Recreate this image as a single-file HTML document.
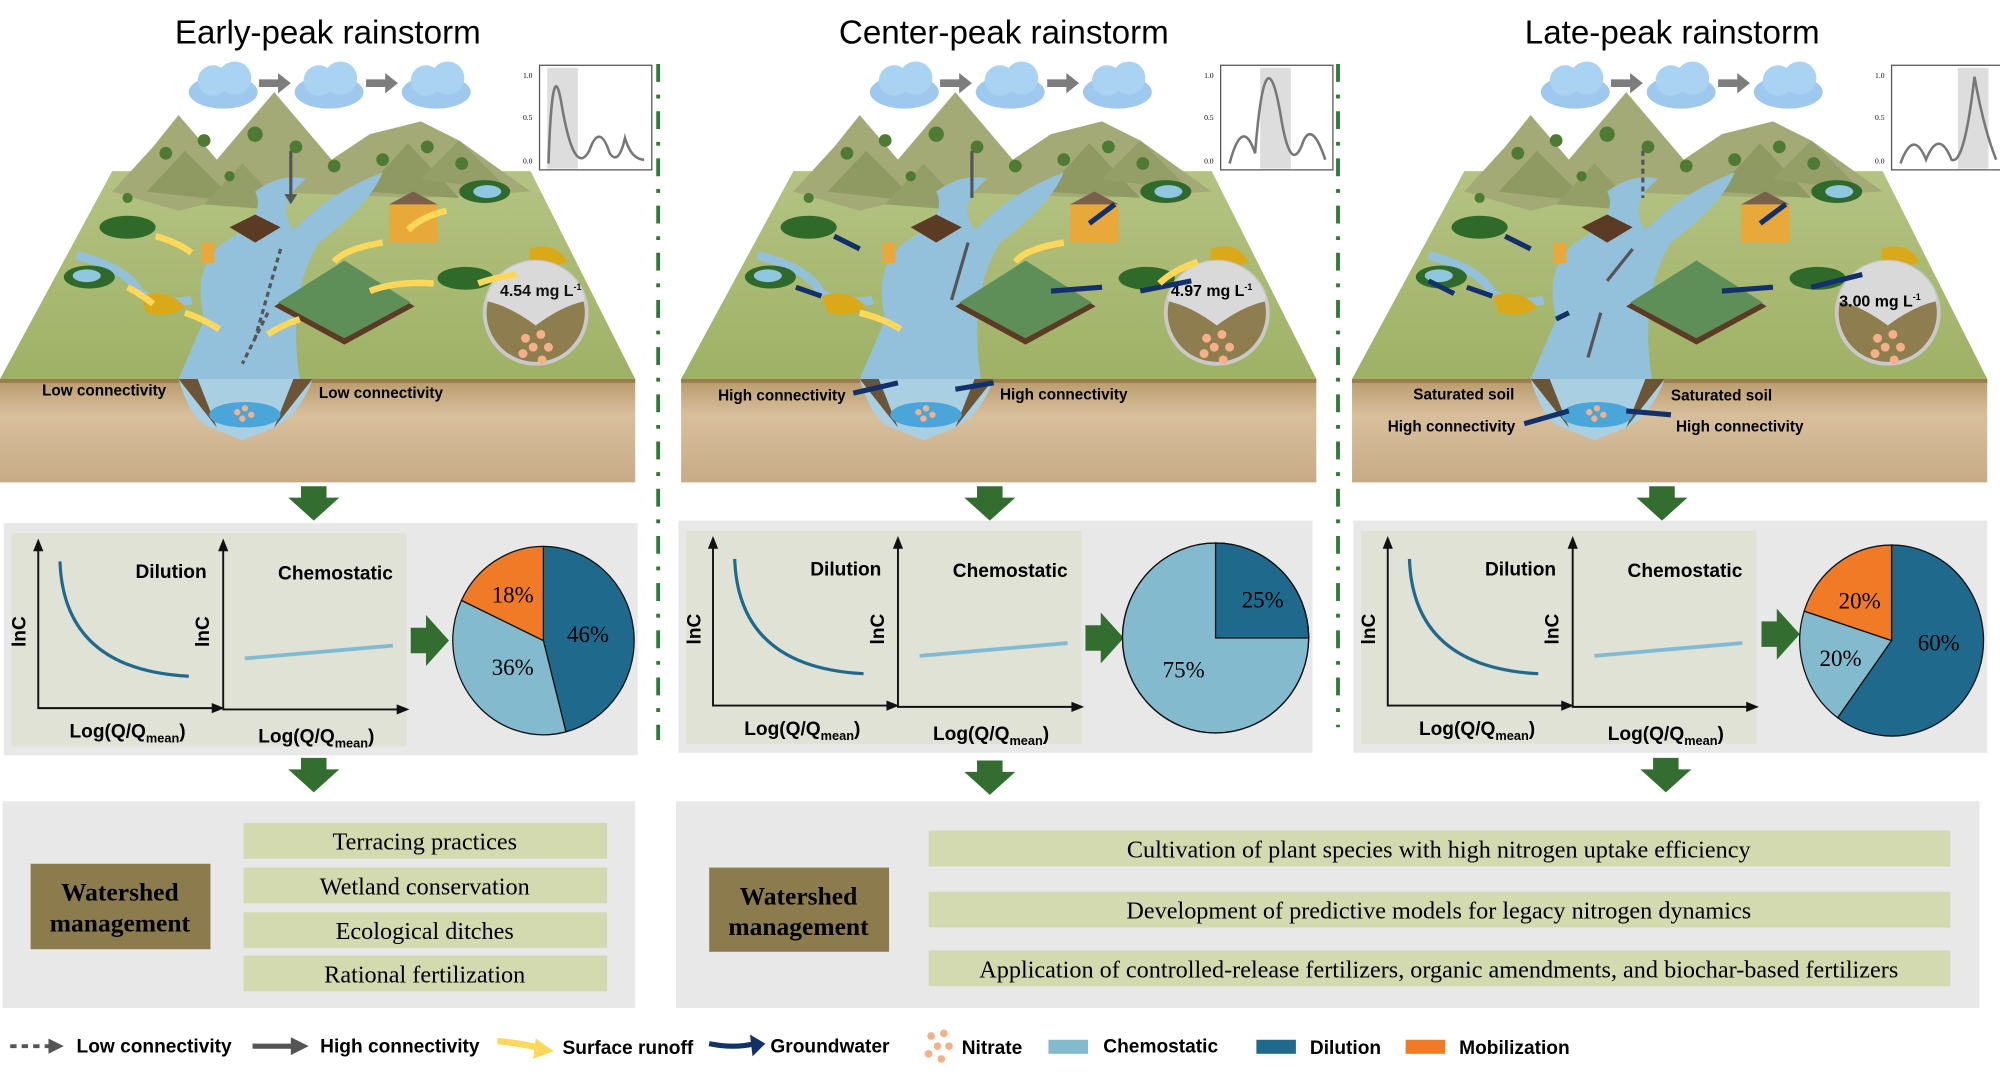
<!DOCTYPE html>
<html><head><meta charset="utf-8"><style>
html,body{margin:0;padding:0;background:#fff;}
svg{display:block;}
.t{font-family:"Liberation Sans",sans-serif;}
.s{font-family:"Liberation Serif",serif;}
</style></head><body>
<svg width="2000" height="1077" viewBox="0 0 1568 844" xmlns="http://www.w3.org/2000/svg">
<defs>
<linearGradient id="side" x1="0" y1="0" x2="0" y2="1"><stop offset="0" stop-color="#b89a6a"/><stop offset="0.35" stop-color="#d8bf9c"/><stop offset="1" stop-color="#c7ab86"/></linearGradient>
<linearGradient id="top" x1="0" y1="0" x2="0" y2="1"><stop offset="0" stop-color="#b4c383"/><stop offset="1" stop-color="#9fb165"/></linearGradient>
<g id="cloud"><ellipse cx="0" cy="0" rx="27" ry="13" fill="#9fc8ee"/><circle cx="-8" cy="-9" r="12" fill="#a9d2f3"/><circle cx="9" cy="-11" r="13" fill="#a9d2f3"/></g>
<g id="land">
 <polygon points="0,297 498,297 416,134 88,134" fill="url(#top)"/>
 <polygon points="88,150 120,115 140,90 170,125 215,72 260,125 290,105 330,95 360,110 416,150 330,155 200,150 140,165" fill="#a3aa76"/>
 <polygon points="115,150 145,118 185,158" fill="#8f9a63"/>
 <polygon points="160,160 190,128 225,165" fill="#949e67"/>
 <polygon points="285,150 320,112 360,155" fill="#8f9a63"/>
 <polygon points="330,140 360,110 400,150" fill="#949e67"/>
 <g fill="#4f7a35"><circle cx="130" cy="120" r="5"/><circle cx="160" cy="110" r="5"/><circle cx="200" cy="105" r="6"/><circle cx="232" cy="115" r="5"/><circle cx="262" cy="130" r="5"/><circle cx="300" cy="125" r="5"/><circle cx="335" cy="115" r="5"/><circle cx="362" cy="128" r="5"/><circle cx="180" cy="138" r="4"/><circle cx="100" cy="155" r="4"/></g>
 <path d="M140,297 L160,250 Q150,210 175,190 Q210,170 200,150 Q220,135 240,140 Q215,160 230,180 Q260,150 300,135 Q290,160 250,190 Q225,230 235,297 Z" fill="#93c0da"/>
 <path d="M60,200 Q100,210 110,230 Q130,240 150,235" stroke="#93c0da" stroke-width="7" fill="none"/>
 <ellipse cx="100" cy="178" rx="22" ry="9" fill="#2f6a2a"/>
 <ellipse cx="70" cy="217" rx="20" ry="9" fill="#2f6a2a"/><ellipse cx="68" cy="216" rx="11" ry="5" fill="#8fc6e0"/>
 <ellipse cx="380" cy="150" rx="20" ry="9" fill="#2f6a2a"/><ellipse cx="382" cy="150" rx="11" ry="5" fill="#8fc6e0"/>
 <ellipse cx="365" cy="218" rx="22" ry="9" fill="#2f6a2a"/>
 <path d="M110,232 Q130,225 145,240 Q135,250 115,245 Z" fill="#d9a91a"/>
 <path d="M415,195 Q435,188 445,205 Q430,212 415,205Z" fill="#d9a91a"/>
 <polygon points="215,240 270,205 325,240 270,270" fill="#5b3b24"/><polygon points="218,237 270,204 322,237 270,265" fill="#5f8f58"/>
 <polygon points="180,178 200,168 220,178 200,190" fill="#5b3b24"/>
 <rect x="305" y="160" width="38" height="30" fill="#e8a83a"/><polygon points="305,160 324,150 343,160" fill="#7a5f4a"/>
 <rect x="158" y="190" width="10" height="16" fill="#e8a83a"/>
 <circle cx="420" cy="245" r="40" fill="#8e7d4e" stroke="#c9c9c9" stroke-width="3"/>
 <path d="M382,232 A40,40 0 0 1 458,232 L458,236 Q440,240 420,255 Q400,240 382,236Z" fill="#d9d9d9"/>
 <g fill="#f4b08a"><circle cx="412" cy="265" r="3.5"/><circle cx="424" cy="262" r="3.5"/><circle cx="418" cy="272" r="3.5"/><circle cx="430" cy="272" r="3.5"/><circle cx="410" cy="277" r="3.5"/><circle cx="425" cy="282" r="3.5"/></g>
 <rect x="0" y="297" width="498" height="81" fill="url(#side)"/>
 <path d="M0,297 L498,297 L498,300 L0,300Z" fill="#9a7d4f"/>
 <path d="M140,297 Q150,330 165,335 L190,345 L215,335 Q235,325 245,297 Z" fill="#a9cfe3"/>
 <path d="M140,297 L155,297 L170,335 Z M245,297 L230,297 L215,335Z" fill="#6b5536"/>
 <ellipse cx="192" cy="325" rx="28" ry="10" fill="#4aa6d8"/>
 <g fill="#f4b08a"><circle cx="186" cy="323" r="2.5"/><circle cx="192" cy="320" r="2.5"/><circle cx="197" cy="325" r="2.5"/><circle cx="190" cy="328" r="2.5"/></g>
 <use href="#cloud" x="175" y="72"/><use href="#cloud" x="258" y="72"/><use href="#cloud" x="342" y="72"/>
 <path d="M203,62 L218,62 L218,57 L228,65 L218,73 L218,68 L203,68Z" fill="#7d7d7d"/>
 <path d="M287,62 L302,62 L302,57 L312,65 L302,73 L302,68 L287,68Z" fill="#7d7d7d"/>
 <rect x="423" y="51" width="88" height="82" fill="#fff" stroke="#555" stroke-width="1"/>
 <text x="410" y="61" font-size="6" class="s">1.0</text><text x="410" y="94" font-size="6" class="s">0.5</text><text x="410" y="128" font-size="6" class="s">0.0</text>
</g>
<g id="ar"><polygon points="-10,0 10,0 10,9 20,9 0,27 -20,9 -10,9" fill="#336e30"/></g>
<g id="arr"><polygon points="0,-10 0,10 12,10 12,20 30,0 12,-20 12,-10" fill="#336e30"/></g>
</defs>

<text x="257" y="34" font-size="26" text-anchor="middle" class="t">Early-peak rainstorm</text>
<text x="787" y="34" font-size="26" text-anchor="middle" class="t">Center-peak rainstorm</text>
<text x="1311" y="34" font-size="26" text-anchor="middle" class="t">Late-peak rainstorm</text>

<g><use href="#land"/>
 <rect x="429" y="53" width="24" height="79" fill="#ddd"/>
 <path d="M430,128 Q433,40 440,80 Q450,140 462,118 Q470,95 478,120 Q485,130 490,108 Q495,125 505,125" stroke="#777" stroke-width="2" fill="none"/>
 <text x="392" y="232" font-size="12.5" font-weight="bold" class="t" fill="#111">4.54 mg L<tspan font-size="7" dy="-5">-1</tspan></text>
 <text x="33" y="310" font-size="12" font-weight="bold" class="t">Low connectivity</text>
 <text x="250" y="312" font-size="12" font-weight="bold" class="t">Low connectivity</text>
 <path d="M228,118 L228,155" stroke="#555" stroke-width="2.5"/><polygon points="223,152 233,152 228,160" fill="#555"/>
 <path d="M220,195 L200,265 M210,245 L190,285" stroke="#555" stroke-width="2.5" stroke-dasharray="4,3"/>
 <g stroke="#ffd85a" stroke-width="5" fill="none"><path d="M350,165 Q330,170 320,180"/><path d="M122,185 Q140,190 150,198"/><path d="M300,190 Q270,195 262,205"/><path d="M405,215 Q385,218 375,222"/><path d="M340,222 Q310,220 290,228"/><path d="M100,225 Q110,230 120,238"/><path d="M145,245 Q160,250 172,258"/><path d="M235,250 Q220,255 210,262"/></g>
</g>
<g transform="translate(534,0)"><use href="#land"/>
 <rect x="454" y="53" width="24" height="79" fill="#ddd"/>
 <path d="M430,128 Q440,90 450,120 Q458,20 470,90 Q478,140 488,110 Q495,95 505,125" stroke="#777" stroke-width="2" fill="none"/>
 <text x="384" y="232" font-size="12.5" font-weight="bold" class="t">4.97 mg L<tspan font-size="7" dy="-5">-1</tspan></text>
 <text x="29" y="314" font-size="12" font-weight="bold" class="t">High connectivity</text>
 <text x="250" y="313" font-size="12" font-weight="bold" class="t">High connectivity</text>
 <path d="M228,118 L228,155" stroke="#555" stroke-width="2.5"/>
 <path d="M225,190 L212,235" stroke="#555" stroke-width="2.5"/>
 <g stroke="#12306a" stroke-width="4" fill="none"><path d="M135,308 L170,300"/><path d="M245,300 L215,305"/><path d="M340,160 L320,175"/><path d="M120,185 L140,195"/><path d="M90,225 L110,232"/><path d="M400,220 L360,228"/><path d="M330,225 L290,228"/></g>
 <g stroke="#ffd85a" stroke-width="5" fill="none"><path d="M300,190 Q270,195 262,205"/><path d="M140,245 Q160,250 172,258"/><path d="M405,205 Q385,212 375,222"/></g>
</g>
<g transform="translate(1060,0)"><use href="#land"/>
 <rect x="475" y="53" width="24" height="79" fill="#ddd"/>
 <path d="M430,128 Q440,100 450,125 Q460,100 470,125 Q480,130 488,60 Q495,100 505,125" stroke="#777" stroke-width="2" fill="none"/>
 <text x="382" y="240" font-size="12.5" font-weight="bold" class="t">3.00 mg L<tspan font-size="7" dy="-5">-1</tspan></text>
 <text x="48" y="313" font-size="12" font-weight="bold" class="t">Saturated soil</text>
 <text x="250" y="314" font-size="12" font-weight="bold" class="t">Saturated soil</text>
 <text x="28" y="338" font-size="12" font-weight="bold" class="t">High connectivity</text>
 <text x="254" y="338" font-size="12" font-weight="bold" class="t">High connectivity</text>
 <path d="M228,118 L228,155" stroke="#555" stroke-width="2.5" stroke-dasharray="4,3"/>
 <path d="M220,195 L200,220 M195,245 L185,280" stroke="#555" stroke-width="2.5"/>
 <g stroke="#12306a" stroke-width="4" fill="none"><path d="M135,332 L170,322"/><path d="M250,325 L215,322"/><path d="M340,160 L320,175"/><path d="M120,185 L140,195"/><path d="M90,225 L110,232"/><path d="M60,220 L80,230"/><path d="M400,215 L360,225"/><path d="M330,225 L290,228"/><path d="M170,245 L160,250"/></g>
</g>

<g stroke="#2e7a34" stroke-width="3"><line x1="516" y1="50" x2="516" y2="580" stroke-dasharray="14,10,3,10"/><line x1="1049" y1="50" x2="1049" y2="570" stroke-dasharray="14,10,3,10"/></g>

<use href="#ar" x="246" y="381"/><use href="#ar" x="776" y="381"/><use href="#ar" x="1303" y="381"/>
<use href="#ar" x="246" y="594"/><use href="#ar" x="776" y="596"/><use href="#ar" x="1306" y="594"/>

<g id="chp">
<rect x="3" y="410" width="497" height="182" fill="#e8e8e8"/>
<rect x="9" y="418" width="310" height="167" fill="#e0e2d6"/>
<g stroke="#111" stroke-width="1.5" fill="none"><path d="M30,428 L30,555 L170,555"/><path d="M175,428 L175,556 L315,556"/></g>
<polygon points="26,432 30,422 34,432" fill="#111"/><polygon points="171,432 175,422 179,432" fill="#111"/>
<polygon points="166,551 176,555 166,559" fill="#111"/><polygon points="311,552 321,556 311,560" fill="#111"/>
<path d="M47,440 Q50,525 148,530" stroke="#1f6a8c" stroke-width="2.5" fill="none"/>
<path d="M192,516 L308,506" stroke="#7fbcd4" stroke-width="3"/>
<text x="162" y="453" font-size="15" font-weight="bold" text-anchor="end" class="t">Dilution</text>
<text x="308" y="454" font-size="15" font-weight="bold" text-anchor="end" class="t">Chemostatic</text>
<text transform="translate(20,495) rotate(-90)" font-size="15" font-weight="bold" text-anchor="middle" class="t">lnC</text>
<text transform="translate(164,495) rotate(-90)" font-size="15" font-weight="bold" text-anchor="middle" class="t">lnC</text>
<text x="100" y="578" font-size="15" font-weight="bold" text-anchor="middle" class="t">Log(Q/Q<tspan font-size="10" dy="4">mean</tspan><tspan dy="-4">)</tspan></text>
<text x="248" y="582" font-size="15" font-weight="bold" text-anchor="middle" class="t">Log(Q/Q<tspan font-size="10" dy="4">mean</tspan><tspan dy="-4">)</tspan></text>
</g>
<use href="#chp" x="529" y="-2"/>
<use href="#chp" x="1058" y="-2"/>
<use href="#arr" x="322" y="502"/><use href="#arr" x="851" y="500"/><use href="#arr" x="1381" y="497"/>

<g transform="translate(426,502) scale(1,1.04)" stroke="#111" stroke-width="1">
<path d="M0,0 L0,-71 A71,71 0 0 1 17.7,68.8Z" fill="#1f6a8c"/>
<path d="M0,0 L17.7,68.8 A71,71 0 0 1 -64.2,-30.3Z" fill="#83bacd"/>
<path d="M0,0 L-64.2,-30.3 A71,71 0 0 1 0,-71Z" fill="#f07a25"/>
</g>
<text x="461" y="503" font-size="18" text-anchor="middle" class="s">46%</text>
<text x="402" y="529" font-size="18" text-anchor="middle" class="s">36%</text>
<text x="402" y="472" font-size="18" text-anchor="middle" class="s">18%</text>
<g transform="translate(953,500) scale(1,1.02)" stroke="#111" stroke-width="1">
<circle r="73" fill="#83bacd"/>
<path d="M0,0 L0,-73 A73,73 0 0 1 73,0Z" fill="#1f6a8c"/>
<circle r="73" fill="none"/>
</g>
<text x="990" y="476" font-size="18" text-anchor="middle" class="s">25%</text>
<text x="928" y="531" font-size="18" text-anchor="middle" class="s">75%</text>
<g transform="translate(1483,502) scale(1,1.04)" stroke="#111" stroke-width="1">
<path d="M0,0 L0,-72 A72,72 0 1 1 -42.3,58.2Z" fill="#1f6a8c"/>
<path d="M0,0 L-42.3,58.2 A72,72 0 0 1 -68.5,-22.2Z" fill="#83bacd"/>
<path d="M0,0 L-68.5,-22.2 A72,72 0 0 1 0,-72Z" fill="#f07a25"/>
</g>
<text x="1520" y="510" font-size="18" text-anchor="middle" class="s">60%</text>
<text x="1443" y="522" font-size="18" text-anchor="middle" class="s">20%</text>
<text x="1458" y="477" font-size="18" text-anchor="middle" class="s">20%</text>

<rect x="2" y="628" width="496" height="162" fill="#e8e8e8"/>
<rect x="24" y="677" width="141" height="67" fill="#8c7c4d"/>
<text x="94" y="706" font-size="20" font-weight="bold" text-anchor="middle" class="s">Watershed</text>
<text x="94" y="730" font-size="20" font-weight="bold" text-anchor="middle" class="s">management</text>
<g fill="#d3dab0"><rect x="191" y="645" width="285" height="28"/><rect x="191" y="680" width="285" height="28"/><rect x="191" y="715" width="285" height="28"/><rect x="191" y="749" width="285" height="28"/></g>
<g font-size="19" text-anchor="middle" class="s"><text x="333" y="666">Terracing practices</text><text x="333" y="701">Wetland conservation</text><text x="333" y="736">Ecological ditches</text><text x="333" y="770">Rational fertilization</text></g>

<rect x="530" y="628" width="1022" height="162" fill="#e8e8e8"/>
<rect x="556" y="680" width="141" height="66" fill="#8c7c4d"/>
<text x="626" y="709" font-size="20" font-weight="bold" text-anchor="middle" class="s">Watershed</text>
<text x="626" y="733" font-size="20" font-weight="bold" text-anchor="middle" class="s">management</text>
<g fill="#d3dab0"><rect x="728" y="651" width="801" height="28"/><rect x="728" y="699" width="801" height="28"/><rect x="728" y="745" width="801" height="28"/></g>
<g font-size="19" text-anchor="middle" class="s"><text x="1128" y="672">Cultivation of plant species with high nitrogen uptake efficiency</text><text x="1128" y="720">Development of predictive models for legacy nitrogen dynamics</text><text x="1128" y="766">Application of controlled-release fertilizers, organic amendments, and biochar-based fertilizers</text></g>

<g font-size="15" font-weight="bold" class="t">
<path d="M8,820 L40,820" stroke="#555" stroke-width="3" stroke-dasharray="5,4"/><polygon points="38,814 50,820 38,826" fill="#555"/>
<text x="60" y="825">Low connectivity</text>
<path d="M198,820 L230,820" stroke="#555" stroke-width="4"/><polygon points="228,813 242,820 228,827" fill="#555"/>
<text x="251" y="825">High connectivity</text>
<path d="M390,816 Q410,818 425,822" stroke="#ffd85a" stroke-width="5" fill="none"/><polygon points="420,814 434,824 418,830" fill="#ffd85a"/>
<text x="441" y="826">Surface runoff</text>
<path d="M556,818 Q575,822 592,818" stroke="#12306a" stroke-width="4" fill="none"/><polygon points="588,811 600,818 590,828" fill="#12306a"/>
<text x="604" y="825">Groundwater</text>
<g fill="#f4b08a"><circle cx="730" cy="812" r="3"/><circle cx="740" cy="810" r="3"/><circle cx="735" cy="820" r="3"/><circle cx="744" cy="820" r="3"/><circle cx="728" cy="826" r="3"/><circle cx="738" cy="830" r="3"/></g>
<text x="754" y="826">Nitrate</text>
<rect x="822" y="815" width="31" height="11" fill="#83bacd"/><text x="865" y="825">Chemostatic</text>
<rect x="985" y="815" width="31" height="11" fill="#1f6a8c"/><text x="1027" y="826">Dilution</text>
<rect x="1102" y="815" width="31" height="11" fill="#f07a25"/><text x="1144" y="826">Mobilization</text>
</g>
</svg>
</body></html>
